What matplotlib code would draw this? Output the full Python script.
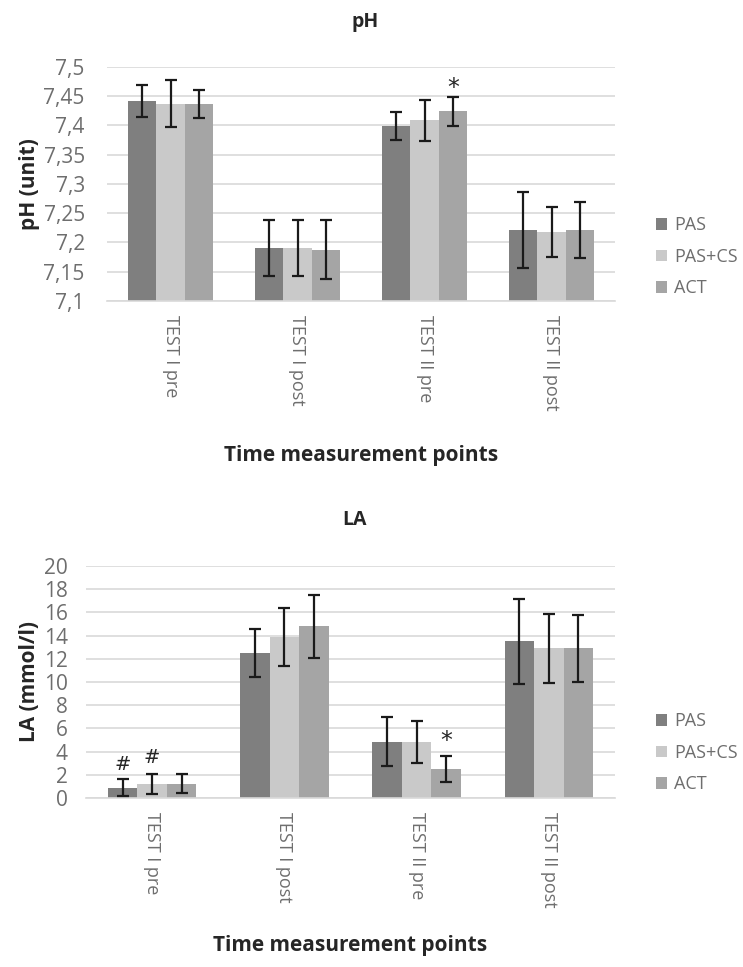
import matplotlib
matplotlib.use('Agg')
import matplotlib.pyplot as plt
from matplotlib.ticker import FuncFormatter, MultipleLocator
import numpy as np

plt.rcParams['font.family'] = ['Open Sans', 'DejaVu Sans']

categories = ['TEST I pre', 'TEST I post', 'TEST II pre', 'TEST II post']
groups = ['PAS', 'PAS+CS', 'ACT']
colors = ['#7f7f7f', '#c9c9c9', '#a5a5a5']

ph_mean = {
    'PAS':    [7.442, 7.191, 7.399, 7.221],
    'PAS+CS': [7.437, 7.190, 7.409, 7.218],
    'ACT':    [7.436, 7.188, 7.424, 7.221],
}
ph_err = {
    'PAS':    [0.027, 0.048, 0.024, 0.065],
    'PAS+CS': [0.040, 0.048, 0.035, 0.043],
    'ACT':    [0.024, 0.051, 0.025, 0.048],
}
la_mean = {
    'PAS':    [0.9, 12.5, 4.85, 13.5],
    'PAS+CS': [1.2, 13.9, 4.85, 12.9],
    'ACT':    [1.25, 14.8, 2.5, 12.9],
}
la_err = {
    'PAS':    [0.7, 2.1, 2.1, 3.65],
    'PAS+CS': [0.85, 2.5, 1.8, 3.0],
    'ACT':    [0.85, 2.7, 1.1, 2.9],
}
# significance marks: (category index, group index, y value, symbol)
ph_marks = [(2, 2, 7.464, '*')]
la_marks = [(0, 0, 2.9, '#'), (0, 1, 3.45, '#'), (2, 2, 4.9, '*')]

W, H = 743, 967
fig = plt.figure(figsize=(W / 100, H / 100), dpi=100)


def comma(v, pos):
    return ('%g' % round(v, 3)).replace('.', ',')


def panel(rect, means, errs, marks, ylim, step, title, ylabel, title_y, xlabel_y, leg_y, ypad):
    l, t, r, b = rect
    ax = fig.add_axes([l / W, 1 - b / H, (r - l) / W, (b - t) / H])
    x = np.arange(len(categories))
    bw = 0.223
    for i, g in enumerate(groups):
        ax.bar(x + (i - 1) * bw, np.array(means[g]) - ylim[0], bw, bottom=ylim[0],
               color=colors[i], label=g, zorder=2)
        ax.errorbar(x + (i - 1) * bw, means[g], yerr=errs[g], fmt='none',
                    ecolor='#1a1a1a', elinewidth=1.6, capsize=4.5, capthick=1.6, zorder=3)
    for ci, gi, yv, s in marks:
        ax.text(x[ci] + (gi - 1) * bw, yv, s, ha='center', va='center',
                fontsize=17 if s == '*' else 14, color='#262626', family='DejaVu Sans', zorder=4)
    ax.set_xlim(-0.5, len(categories) - 0.5)
    ax.set_ylim(*ylim)
    ax.yaxis.set_major_locator(MultipleLocator(step))
    ax.yaxis.set_major_formatter(FuncFormatter(comma))
    ax.grid(axis='y', color='#d9d9d9', linewidth=1.2, zorder=0)
    ax.set_axisbelow(True)
    for s in ['top', 'right', 'left']:
        ax.spines[s].set_visible(False)
    ax.spines['bottom'].set_color('#d9d9d9')
    ax.spines['bottom'].set_linewidth(1.2)
    ax.tick_params(axis='both', length=0, labelcolor='#6e6e6e')
    ax.tick_params(axis='y', pad=ypad, labelsize=15)
    ax.tick_params(axis='x', pad=10, labelsize=13)
    ax.set_xticks(x)
    ax.set_xticklabels(categories, rotation=-90, va='top', ha='center')
    fig.text(0.5 * (l + r) / W + 0.005, 1 - title_y / H, title, ha='center', va='center',
             fontsize=14, fontweight='bold', color='#262626')
    fig.text(30 / W, 1 - 0.5 * (t + b) / H, ylabel, rotation=90, ha='center', va='center',
             fontsize=15, fontweight='bold', color='#262626')
    fig.text(0.5 * (l + r) / W, 1 - xlabel_y / H, 'Time measurement points', ha='center',
             va='center', fontsize=15, fontweight='bold', color='#262626')
    fig.legend(*ax.get_legend_handles_labels(), loc='upper left',
               bbox_to_anchor=(640 / W, 1 - leg_y / H), frameon=False, fontsize=13,
               handlelength=0.6, handleheight=0.6, handletextpad=0.4, labelspacing=0.75,
               labelcolor='#6e6e6e')
    return ax


panel((107, 67, 615, 301), ph_mean, ph_err, ph_marks, (7.1, 7.5), 0.05,
      'pH', 'pH (unit)', 22, 455, 200, 16)
panel((86, 566, 615, 798), la_mean, la_err, la_marks, (0, 20), 2,
      'LA', 'LA (mmol/l)', 520, 945, 696, 13)

fig.savefig('out.png', dpi=100)
